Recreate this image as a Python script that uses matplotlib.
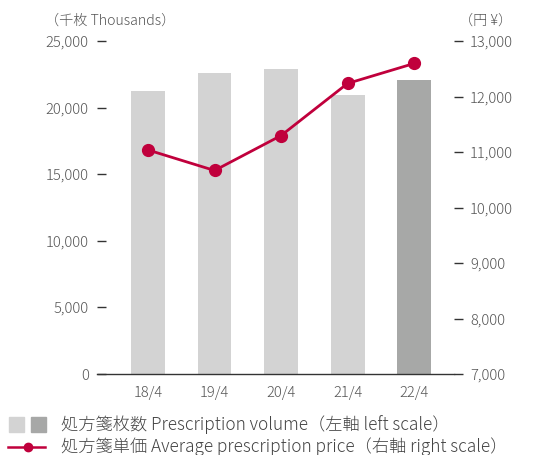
import matplotlib
matplotlib.use("Agg")
import matplotlib.pyplot as plt
from matplotlib.patches import Rectangle
from matplotlib.lines import Line2D

plt.rcParams['font.family'] = ['Noto Sans CJK JP', 'DejaVu Sans']
plt.rcParams['font.weight'] = 'light'

categories = ["18/4", "19/4", "20/4", "21/4", "22/4"]
volume = [21300, 22600, 22900, 21000, 22100]          # thousands of prescriptions
price = [11040, 10670, 11300, 12240, 12600]           # yen
bar_colors = ["#d3d3d3", "#d3d3d3", "#d3d3d3", "#d3d3d3", "#a7a8a7"]
left_ticks = [0, 5000, 10000, 15000, 20000, 25000]
right_ticks = [7000, 8000, 9000, 10000, 11000, 12000, 13000]

W, H = 533, 455
fig = plt.figure(figsize=(W / 100, H / 100), dpi=100)
ax_l, ax_r, ax_b, ax_t = 97, 454, 374, 41.3
ax = fig.add_axes([ax_l / W, 1 - ax_b / H, (ax_r - ax_l) / W, (ax_b - ax_t) / H])

text_c = "#555555"
line_c = "#c0003c"

x = list(range(len(categories)))
ax.bar(x, volume, width=0.51, color=bar_colors, zorder=1)
ax.set_xlim(-0.767, 4.6)
ax.set_ylim(0, 25000)
ax.set_yticks(left_ticks)
ax.set_yticklabels([f"{v:,}" for v in left_ticks])
ax.set_xticks(x)
ax.set_xticklabels(categories)
for s in ["top", "left", "right"]:
    ax.spines[s].set_visible(False)
ax.spines["bottom"].set_color("#333333")
ax.spines["bottom"].set_linewidth(1.0)
ax.tick_params(axis="x", length=0, pad=9, labelsize=10.6, labelcolor=text_c)
ax.tick_params(axis="y", direction="in", length=6.5, width=1, color="#333333",
               pad=6, labelsize=10.6, labelcolor=text_c)

ax2 = ax.twinx()
ax2.plot(x, price, color=line_c, lw=2, marker="o", ms=8.5, zorder=3)
ax2.set_ylim(7000, 13000)
ax2.set_yticks(right_ticks)
ax2.set_yticklabels([f"{v:,}" for v in right_ticks])
for s in ["top", "left", "right", "bottom"]:
    ax2.spines[s].set_visible(False)
ax2.tick_params(axis="y", direction="out", length=6.5, width=1, color="#333333",
                pad=5, labelsize=10.6, labelcolor=text_c)

# unit labels
fig.text(45 / W, 1 - 21 / H, "（千枚 Thousands）", ha="left", va="center",
         fontsize=10.2, color=text_c)
fig.text(512 / W, 1 - 21 / H, "（円 ¥）", ha="right", va="center",
         fontsize=10.2, color=text_c)

# legend
fig.patches.append(Rectangle((9 / W, 1 - 432 / H), 15 / W, 15 / H,
                             transform=fig.transFigure, color="#d3d3d3"))
fig.patches.append(Rectangle((31 / W, 1 - 432 / H), 15 / W, 15 / H,
                             transform=fig.transFigure, color="#a7a8a7"))
fig.text(61 / W, 1 - 425 / H, "処方箋枚数 Prescription volume（左軸 left scale）",
         ha="left", va="center", fontsize=12.4, color="#444444")
fig.lines.append(Line2D([8 / W, 45 / W], [1 - 447 / H, 1 - 447 / H],
                        transform=fig.transFigure, color=line_c, lw=1.8))
fig.lines.append(Line2D([28 / W], [1 - 447 / H], transform=fig.transFigure,
                        color=line_c, marker="o", ms=6))
fig.text(61 / W, 1 - 447 / H, "処方箋単価 Average prescription price（右軸 right scale）",
         ha="left", va="center", fontsize=12.4, color="#444444")

fig.savefig("out.png", dpi=100)
